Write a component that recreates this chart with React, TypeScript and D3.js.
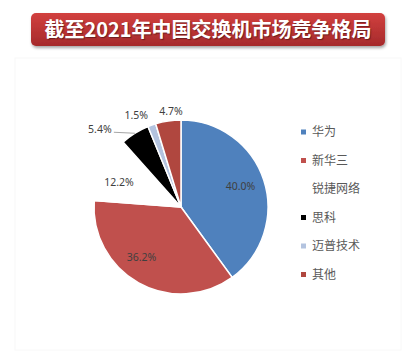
import React from "react";
import * as d3 from "d3";

const categories = ["华为", "新华三", "锐捷网络", "思科", "迈普技术", "其他"];
const values = [40.0, 36.2, 12.2, 5.4, 1.5, 4.7];
const colors = ["#4f81bd", "#c0504d", "#ffffff", "#000000", "#b3c3df", "#b0473f"];
const legendLines = [["华为"], ["新华三", "锐捷网络"], ["思科"], ["迈普技术"], ["其他"]];
const legendIdx = [0, 1, 3, 4, 5];
const titleText = "截至2021年中国交换机市场竞争格局";

// layout (not data)
const W = 420, H = 356;
const cx = 181, cy = 207, R = 87;
const labelR = [0.72, 0.72, 0.75, 1.0, 1.17, 1.1];
const labelNudge: [number, number][] = [[0, -1.5], [-9, -4], [-3.5, 4], [-35, -4], [-10.5, 4], [4, -1]];

export default function App() {
  const pie = d3.pie<number>().sort(null).value((d) => d);
  const arcs = pie(values);
  const arc = d3.arc<d3.PieArcDatum<number>>().innerRadius(0).outerRadius(R);
  const fmt = d3.format(".1f");

  return (
    <svg width={W} height={H} style={{ position: "absolute", left: 0, top: 0, display: "block" }}
      fontFamily="'Noto Sans CJK SC', 'Noto Sans', sans-serif">
      <defs>
        <linearGradient id="tg" x1="0" y1="0" x2="0" y2="1">
          <stop offset="0" stopColor="#d2403f" />
          <stop offset="1" stopColor="#a52a2b" />
        </linearGradient>
        <filter id="sh" x="-5%" y="-20%" width="110%" height="160%">
          <feDropShadow dx="1" dy="2" stdDeviation="1.5" floodColor="#000" floodOpacity="0.35" />
        </filter>
      </defs>
      <rect x={0} y={0} width={W} height={H} fill="#ffffff" />
      <rect x={15} y={58} width={386} height={292} fill="#ffffff" stroke="#f8f8f8" strokeWidth={1} />
      <rect x={31} y={13} width={354} height={33} rx={5} fill="url(#tg)" filter="url(#sh)" />
      <text x={208} y={37} textAnchor="middle" fill="#ffffff" fontSize={20} fontWeight="bold"
        style={{ textShadow: "1px 1px 1px rgba(0,0,0,0.4)" }}>{titleText}</text>

      <g transform={`translate(${cx},${cy})`}>
        {arcs.map((a, i) => (
          <path key={i} d={arc(a) || ""} fill={colors[i]} stroke="#ffffff" strokeWidth={1.5} />
        ))}
        {arcs.map((a, i) => {
          const mid = (a.startAngle + a.endAngle) / 2;
          const r = R * labelR[i];
          const x = Math.sin(mid) * r + labelNudge[i][0];
          const y = -Math.cos(mid) * r + labelNudge[i][1];
          const label = fmt(values[i]) + "%";
          const showLeader = i === 3;
          return (
            <g key={"l" + i}>
              {showLeader && (
                <line x1={Math.sin(mid) * R} y1={-Math.cos(mid) * R} x2={x + 14} y2={y + 3}
                  stroke="#a6a6a6" strokeWidth={1} />
              )}
              <text x={x} y={y} dy="0.35em" textAnchor="middle" fontSize={10.5}
                fontFamily="'Noto Sans', sans-serif" fill="#404040">{label}</text>
            </g>
          );
        })}
      </g>

      {(() => {
        let y = 132;
        const out: React.ReactNode[] = [];
        legendLines.forEach((lines, k) => {
          const ci = legendIdx[k];
          out.push(<rect key={"m" + k} x={301} y={y - 2.5} width={5} height={5} fill={colors[ci]} />);
          lines.forEach((t, j) => {
            out.push(
              <text key={"t" + k + j} x={312} y={y + j * 28.5} dy="0.35em" fontSize={12} fill="#595959">{t}</text>
            );
          });
          y += 28.5 * lines.length;
        });
        return out;
      })()}
    </svg>
  );
}
